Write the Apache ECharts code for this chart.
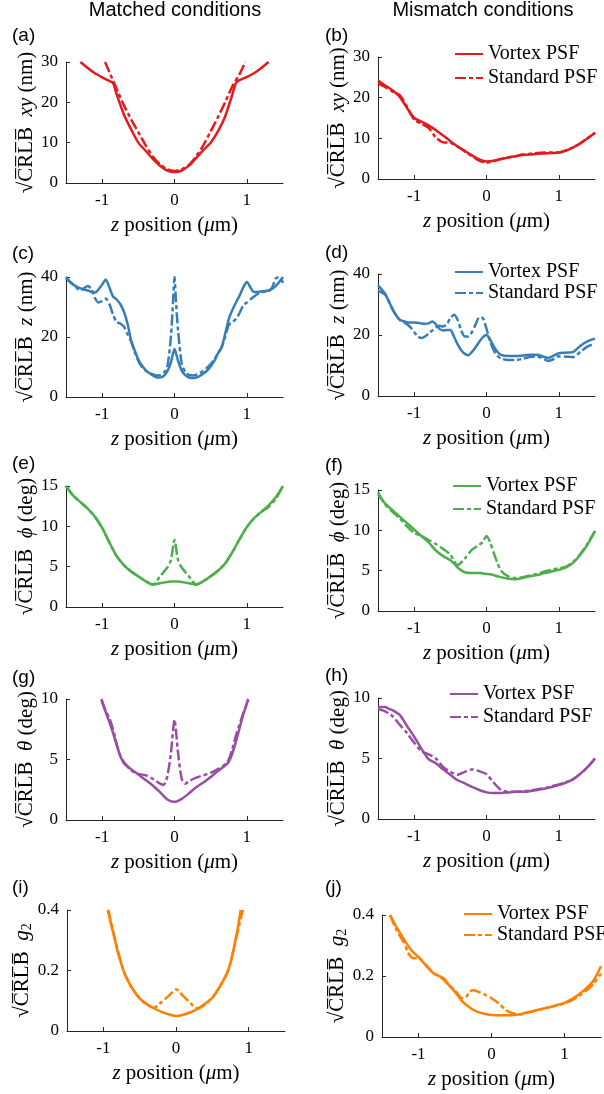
<!DOCTYPE html>
<html><head><meta charset="utf-8">
<script src="https://cdn.jsdelivr.net/npm/echarts@6/dist/echarts.min.js"></script>
<style>html,body{margin:0;padding:0;background:#fff}#c{width:604px;height:1094px}</style>
</head><body><div id="c"></div>
<script>
// ---------- data (z position in µm, CRLB values) ----------
const xTicks = [-1, 0, 1];

// (a) xy, matched
const zV_a = [-1.3,-1.2,-1.1,-1.0,-0.9,-0.85,-0.8,-0.7,-0.6,-0.5,-0.4,-0.3,-0.2,-0.1,0,0.1,0.2,0.3,0.4,0.5,0.6,0.7,0.8,0.85,0.9,1.0,1.1,1.2,1.3];
const vortex_a = [30,28.5,27.2,26.2,25.3,24.8,22,17,13.3,10,8,6,4.3,3.1,2.7,3.1,4.3,6.2,8.2,10,12.8,16.5,22,24.8,25.5,26.3,27.2,28.5,30];
const zS_a = [-0.96,-0.9,-0.8,-0.7,-0.6,-0.5,-0.4,-0.3,-0.2,-0.1,0,0.1,0.2,0.3,0.4,0.5,0.6,0.7,0.8,0.9,0.98];
const standard_a = [30,27.5,23.3,19.3,15.8,12.6,9.4,6.6,4.6,3.4,3.0,3.4,4.5,6.6,9.4,12.8,16.3,20,24,27,30];

// (b) xy, mismatch
const z_b = [-1.5,-1.4,-1.3,-1.2,-1.1,-1.0,-0.9,-0.8,-0.7,-0.6,-0.5,-0.4,-0.3,-0.2,-0.1,0,0.1,0.2,0.3,0.4,0.5,0.6,0.7,0.8,0.9,1.0,1.1,1.2,1.3,1.4,1.5];
const vortex_b = [24.2,23,21.8,20.2,17.5,15,14.1,13.2,12,10.7,9.3,8.0,6.9,5.8,4.8,4.3,4.5,4.9,5.3,5.6,5.9,6.0,6.2,6.3,6.4,6.5,7.0,7.8,8.8,10.0,11.3];
const standard_b = [23.5,22.6,21.5,20.6,17.8,14.6,13.6,12.6,10.2,9.0,8.9,8.0,6.8,5.6,4.5,4.0,4.4,4.9,5.3,5.6,6.0,6.2,6.4,6.5,6.5,6.5,7.0,7.8,8.8,10.1,11.4];

// (c) z, matched
const zV_c = [-1.5,-1.4,-1.3,-1.2,-1.1,-1.0,-0.95,-0.9,-0.85,-0.8,-0.75,-0.7,-0.65,-0.6,-0.55,-0.5,-0.45,-0.4,-0.35,-0.3,-0.25,-0.2,-0.15,-0.1,-0.05,0,0.05,0.1,0.15,0.2,0.25,0.3,0.35,0.4,0.45,0.5,0.55,0.6,0.65,0.7,0.75,0.8,0.85,0.9,0.95,1.0,1.05,1.1,1.2,1.3,1.4,1.5];
const vortex_c = [39.5,37.5,36.2,35.5,34.8,37.5,39.2,36.5,33.5,32.5,31,28.5,24.5,19,15.5,12.5,10.5,9,8,7.2,6.6,6.5,7,8.5,11.5,16,12,8.8,7.3,6.5,6.3,6.5,7,7.8,8.8,10.2,12,14.5,16.5,21,26,29,31.5,33.8,36.5,38.3,36.5,35,35.2,35.5,37,40];
const zS_c = [-1.5,-1.45,-1.4,-1.3,-1.2,-1.15,-1.1,-1.05,-1.0,-0.95,-0.9,-0.85,-0.8,-0.75,-0.7,-0.65,-0.6,-0.55,-0.5,-0.45,-0.4,-0.35,-0.3,-0.25,-0.2,-0.15,-0.1,-0.05,-0.02,0,0.02,0.05,0.1,0.15,0.2,0.25,0.3,0.35,0.4,0.45,0.5,0.55,0.6,0.65,0.7,0.75,0.8,0.85,0.9,0.95,1.0,1.1,1.2,1.3,1.35,1.4,1.45,1.5];
const standard_c = [40,38.5,37.5,35.5,37,36,33,31.5,32,32.8,31,27.5,25,24.5,23.5,21,18.5,15,12,10,8.8,8,7.5,7.2,7.3,8,10,20,32,40,32,22,11,8.3,7.4,7.2,7.4,8,8.8,9.8,11,12.5,14.5,16.5,20,24,25,26,28,30.5,31.5,33.5,35,35.2,36.5,39.5,40,38];

// (d) z, mismatch
const z_d = [-1.5,-1.45,-1.4,-1.35,-1.3,-1.25,-1.2,-1.1,-1.05,-1.0,-0.95,-0.9,-0.85,-0.8,-0.75,-0.7,-0.65,-0.6,-0.55,-0.5,-0.45,-0.4,-0.35,-0.3,-0.25,-0.2,-0.15,-0.1,-0.05,0,0.05,0.1,0.15,0.2,0.3,0.4,0.5,0.6,0.7,0.8,0.85,0.9,1.0,1.1,1.2,1.3,1.4,1.5];
const vortex_d = [36.3,35,33.5,31,28.5,26.5,25,24.2,24.1,24.1,24,23.8,23.7,23.8,24.4,23.5,22,21.5,21.6,21.6,19.5,17,15,13.8,13.4,14.5,16,17.8,19.3,20,18.5,16.3,14.5,13.5,13.1,13.1,13.3,13.5,13.5,12.8,12.5,12.9,14,14.2,14.5,16.5,18,18.8];
const standard_d = [34.5,34,33.2,31,28.5,26.5,25,23.5,22.5,21,19.5,19,19.5,20.5,21.5,22.5,23,22.8,23.5,25.5,26.6,25,21.5,19.5,19.5,21,23.5,25.8,25.5,22,18,15,13.2,12.3,11.8,11.8,12.2,12.8,13,12,11.5,11.8,13,12.9,12.8,14.5,16.3,17];

// (e) phi, matched
const z_e = [-1.5,-1.4,-1.3,-1.2,-1.1,-1.0,-0.9,-0.8,-0.7,-0.6,-0.5,-0.4,-0.3,-0.2,-0.1,-0.05,0,0.05,0.1,0.2,0.3,0.4,0.5,0.6,0.7,0.8,0.9,1.0,1.1,1.2,1.3,1.4,1.5];
const vortex_e = [15,13.8,13,12.2,11.2,9.8,8,6.3,5.2,4.4,3.8,3.2,2.75,2.95,3.1,3.15,3.15,3.15,3.1,2.95,2.75,3.2,3.8,4.5,5.4,6.8,8.4,9.9,11,11.8,12.6,13.6,15];
const standard_e = [15,13.8,13,12.2,11.2,9.8,8,6.3,5.2,4.4,3.8,3.2,2.8,3.8,4.9,5.8,8.3,5.8,4.9,3.8,2.8,3.2,3.8,4.5,5.4,6.8,8.4,9.9,11,11.8,12.4,13.4,15];

// (f) phi, mismatch
const z_f = [-1.5,-1.4,-1.3,-1.2,-1.1,-1.0,-0.9,-0.8,-0.7,-0.6,-0.5,-0.45,-0.4,-0.3,-0.2,-0.1,-0.05,0,0.05,0.1,0.15,0.2,0.3,0.4,0.5,0.6,0.7,0.8,0.9,1.0,1.1,1.2,1.3,1.4,1.5];
const vortex_f = [14.4,13.3,12.5,11.7,10.9,10.1,9.3,8.5,7.5,6.8,6.3,5.9,5.4,4.8,4.7,4.7,4.65,4.6,4.55,4.45,4.3,4.2,4.0,3.95,4.1,4.3,4.45,4.7,4.9,5.1,5.4,6.0,7.0,8.3,9.9];
const standard_f = [14.7,13.2,12.3,11.5,10.5,9.7,9.3,8.8,8.3,7.7,7.0,6.2,5.7,6.5,7.6,8.2,8.6,9.3,8.5,7.2,6.0,5.0,4.3,4.1,4.2,4.4,4.6,4.9,5.1,5.3,5.5,6.1,7.1,8.4,9.9];

// (g) theta, matched
const zV_g = [-1.01,-0.95,-0.9,-0.85,-0.8,-0.75,-0.7,-0.6,-0.5,-0.4,-0.3,-0.2,-0.1,0,0.1,0.2,0.3,0.4,0.5,0.6,0.7,0.75,0.8,0.85,0.9,0.95,1.02];
const vortex_g = [10,8.9,8.1,7.2,6.2,5.3,4.7,4.2,3.75,3.3,2.85,2.3,1.7,1.5,1.75,2.2,2.7,3.1,3.55,4.05,4.5,4.8,5.5,6.5,7.6,8.7,10];
const zS_g = [-1.01,-0.95,-0.9,-0.85,-0.8,-0.75,-0.7,-0.6,-0.5,-0.4,-0.3,-0.2,-0.15,-0.1,-0.05,-0.02,0,0.02,0.05,0.1,0.15,0.2,0.3,0.4,0.5,0.6,0.7,0.75,0.8,0.85,0.9,0.95,1.02];
const standard_g = [9.9,9.0,8.4,7.5,6.3,5.3,4.8,4.1,3.8,3.7,3.4,3.0,2.9,3.6,5.5,7.4,8.3,7.4,5.5,3.4,3.0,3.2,3.5,3.7,3.9,4.2,4.6,5.0,5.9,7.0,7.9,8.8,9.9];

// (h) theta, mismatch
const z_h = [-1.5,-1.45,-1.4,-1.35,-1.3,-1.2,-1.1,-1.0,-0.9,-0.8,-0.7,-0.6,-0.5,-0.4,-0.3,-0.2,-0.1,0,0.1,0.2,0.3,0.4,0.5,0.6,0.7,0.8,0.9,1.0,1.1,1.2,1.3,1.4,1.5];
const vortex_h = [9.2,9.25,9.25,9.1,9.0,8.6,7.7,6.8,5.8,4.95,4.6,4.1,3.65,3.2,2.95,2.65,2.4,2.2,2.15,2.15,2.2,2.25,2.25,2.3,2.4,2.5,2.65,2.8,3.0,3.3,3.75,4.3,5.0];
const standard_h = [9.1,9.0,8.9,8.7,8.5,7.8,7.1,6.3,5.6,5.35,5.0,4.3,3.9,3.65,3.9,4.1,3.95,3.7,3.0,2.4,2.25,2.25,2.3,2.35,2.45,2.55,2.7,2.85,3.05,3.3,3.75,4.3,5.0];

// (i) g2, matched
const zV_i = [-0.94,-0.9,-0.85,-0.8,-0.75,-0.7,-0.6,-0.5,-0.4,-0.3,-0.2,-0.1,0,0.1,0.2,0.3,0.4,0.5,0.6,0.7,0.75,0.8,0.85,0.89];
const vortex_i = [0.4,0.36,0.31,0.26,0.22,0.185,0.14,0.108,0.088,0.075,0.063,0.055,0.05,0.054,0.062,0.074,0.09,0.11,0.145,0.19,0.225,0.28,0.34,0.4];
const zS_i = [-0.93,-0.9,-0.85,-0.8,-0.75,-0.7,-0.6,-0.5,-0.4,-0.3,-0.25,-0.2,-0.1,-0.05,0,0.05,0.1,0.2,0.25,0.3,0.4,0.5,0.6,0.7,0.75,0.8,0.85,0.9,0.92];
const standard_i = [0.4,0.365,0.315,0.265,0.222,0.186,0.14,0.108,0.088,0.076,0.085,0.096,0.116,0.128,0.138,0.128,0.115,0.092,0.08,0.075,0.088,0.11,0.145,0.19,0.225,0.275,0.33,0.38,0.4];

// (j) g2, mismatch
const zV_j = [-1.39,-1.3,-1.2,-1.1,-1.0,-0.9,-0.8,-0.7,-0.65,-0.6,-0.5,-0.4,-0.3,-0.2,-0.1,0,0.1,0.2,0.3,0.4,0.5,0.6,0.7,0.8,0.9,1.0,1.1,1.2,1.3,1.4,1.5];
const vortex_j = [0.4,0.36,0.32,0.285,0.262,0.235,0.21,0.198,0.192,0.175,0.148,0.117,0.097,0.083,0.076,0.072,0.071,0.071,0.072,0.075,0.081,0.087,0.093,0.098,0.105,0.112,0.124,0.14,0.16,0.186,0.232];
const zS_j = [-1.39,-1.3,-1.2,-1.15,-1.1,-1.05,-1.0,-0.9,-0.8,-0.7,-0.6,-0.5,-0.4,-0.35,-0.3,-0.25,-0.2,-0.1,0,0.1,0.2,0.3,0.4,0.5,0.6,0.7,0.8,0.9,1.0,1.1,1.2,1.3,1.4,1.5];
const standard_j = [0.4,0.35,0.31,0.28,0.262,0.258,0.259,0.237,0.21,0.197,0.175,0.152,0.127,0.13,0.148,0.153,0.15,0.14,0.127,0.11,0.088,0.077,0.074,0.08,0.086,0.092,0.098,0.104,0.11,0.12,0.135,0.152,0.175,0.208];

const seriesNames = ['Vortex PSF', 'Standard PSF'];
const columnTitles = ['Matched conditions', 'Mismatch conditions'];

// ---------- styling / layout ----------
const SERIF = '"Liberation Serif", "Times New Roman", serif';
const SANS = '"Liberation Sans", Arial, sans-serif';
const AXIS = '#262626';
const RED = '#e41a1c', BLUE = '#377eb8', GREEN = '#4daf4a', PURPLE = '#984ea3', ORANGE = '#ff7f00';
const CRLB = '\u221A' + 'C\u0305R\u0305L\u0305B\u0305' + '  ';

const panels = [
  {key:'a', grid:{left:66,top:62,width:217,height:121}, color:RED, yMax:30, yInt:10, yName:'{i|xy} (nm)', v:[zV_a,vortex_a], s:[zS_a,standard_a], letter:[12,26]},
  {key:'b', grid:{left:378,top:57,width:217,height:122}, color:RED, yMax:30, yInt:10, yName:'{i|xy} (nm)', v:[z_b,vortex_b], s:[z_b,standard_b], letter:[325,26], legend:{left:454,top:44,gap:4}},
  {key:'c', grid:{left:66,top:277,width:217,height:120}, color:BLUE, yMax:40, yInt:20, yName:'{i|z} (nm)', v:[zV_c,vortex_c], s:[zS_c,standard_c], letter:[12,244]},
  {key:'d', grid:{left:378,top:274,width:217,height:122}, color:BLUE, yMax:40, yInt:20, yName:'{i|z} (nm)', v:[z_d,vortex_d], s:[z_d,standard_d], letter:[325,243], legend:{left:454,top:262,gap:1}},
  {key:'e', grid:{left:66,top:486,width:217,height:121}, color:GREEN, yMax:15, yInt:5, yName:'{i|\u03D5} (deg)', v:[z_e,vortex_e], s:[z_e,standard_e], letter:[12,454]},
  {key:'f', grid:{left:378,top:490,width:217,height:121}, color:GREEN, yMax:15, yInt:5, yName:'{i|\u03D5} (deg)', v:[z_f,vortex_f], s:[z_f,standard_f], letter:[325,456], legend:{left:452,top:476,gap:3}},
  {key:'g', grid:{left:66,top:699,width:217,height:121}, color:PURPLE, yMax:10, yInt:5, yName:'{i|\u03B8} (deg)', v:[zV_g,vortex_g], s:[zS_g,standard_g], letter:[12,668]},
  {key:'h', grid:{left:378,top:698,width:217,height:121}, color:PURPLE, yMax:10, yInt:5, yName:'{i|\u03B8} (deg)', v:[z_h,vortex_h], s:[z_h,standard_h], letter:[325,666], legend:{left:449,top:684,gap:3}},
  {key:'i', grid:{left:67,top:910,width:218,height:121}, color:ORANGE, yMax:0.4, yInt:0.2, yName:'{i|g}{s|2}', v:[zV_i,vortex_i], s:[zS_i,standard_i], letter:[12,878]},
  {key:'j', grid:{left:382,top:915,width:219,height:122}, color:ORANGE, yMax:0.4, yInt:0.2, yName:'{i|g}{s|2}', v:[zV_j,vortex_j], s:[zS_j,standard_j], letter:[325,878], legend:{left:463,top:904,gap:1}}
];

const pairs = (zs, ys) => zs.map((z, i) => [z, ys[i]]);
const tickLabelStyle = {fontFamily: SERIF, fontSize: 17, color: '#000'};

const option = {
  backgroundColor: '#fff',
  animation: false,
  title: [
    {text: columnTitles[0], left: 175, top: 0, textAlign: 'center', padding: 0,
     textStyle: {fontFamily: SANS, fontSize: 20, fontWeight: 'normal', color: '#000'}},
    {text: columnTitles[1], left: 483, top: 0, textAlign: 'center', padding: 0,
     textStyle: {fontFamily: SANS, fontSize: 20, fontWeight: 'normal', color: '#000'}}
  ].concat(panels.map(p => ({
    text: '(' + p.key + ')', left: p.letter[0], top: p.letter[1], padding: 0,
    textStyle: {fontFamily: SANS, fontSize: 19, fontWeight: 'normal', color: '#000'}
  }))),
  grid: panels.map(p => Object.assign({containLabel: false}, p.grid)),
  xAxis: panels.map((p, i) => ({
    gridIndex: i, type: 'value', min: -1.5, max: 1.5,
    axisLine: {show: true, onZero: false, lineStyle: {color: AXIS, width: 1}},
    axisTick: {show: true, inside: true, length: 4, customValues: xTicks, lineStyle: {color: AXIS}},
    axisLabel: Object.assign({customValues: xTicks, margin: 9}, tickLabelStyle),
    splitLine: {show: false},
    name: '{i|z} position ({i|\u03BC}m)', nameLocation: 'middle', nameGap: 32,
    nameTextStyle: {fontFamily: SERIF, fontSize: 21, color: '#000',
      rich: {i: {fontFamily: SERIF, fontSize: 21, fontStyle: 'italic', color: '#000'}}}
  })),
  yAxis: panels.map((p, i) => ({
    gridIndex: i, type: 'value', min: 0, max: p.yMax, interval: p.yInt,
    axisLine: {show: true, onZero: false, lineStyle: {color: AXIS, width: 1}},
    axisTick: {show: true, inside: true, length: 4, lineStyle: {color: AXIS}},
    axisLabel: Object.assign({margin: 8}, tickLabelStyle),
    splitLine: {show: false},
    name: CRLB + p.yName, nameLocation: 'middle', nameGap: 28,
    nameTextStyle: {fontFamily: SERIF, fontSize: 21, color: '#000',
      rich: {
        i: {fontFamily: SERIF, fontSize: 21, fontStyle: 'italic', color: '#000'},
        s: {fontFamily: SERIF, fontSize: 14, color: '#000', padding: [8, 0, 0, 0]}
      }}
  })),
  legend: panels.filter(p => p.legend).map(p => ({
    data: seriesNames.map(n => n + '|' + p.key),
    orient: 'vertical', left: p.legend.left, top: p.legend.top,
    itemWidth: 28, itemHeight: 14, itemGap: p.legend.gap, padding: 0,
    selectedMode: false,
    itemStyle: {color: 'rgba(0,0,0,0)', borderWidth: 0, opacity: 0},
    formatter: n => n.split('|')[0],
    textStyle: {fontFamily: SERIF, fontSize: 20, color: '#000'}
  })),
  series: panels.flatMap((p, i) => [
    {name: seriesNames[0] + '|' + p.key, type: 'line', xAxisIndex: i, yAxisIndex: i,
     data: pairs(p.v[0], p.v[1]), symbol: 'none', showSymbol: false, smooth: 0.25,
     lineStyle: {color: p.color, width: 2.5, type: 'solid'}, itemStyle: {color: p.color}, z: 3},
    {name: seriesNames[1] + '|' + p.key, type: 'line', xAxisIndex: i, yAxisIndex: i,
     data: pairs(p.s[0], p.s[1]), symbol: 'none', showSymbol: false, smooth: 0.25,
     lineStyle: {color: p.color, width: 2.5, type: [11, 3, 4, 3]}, itemStyle: {color: p.color}, z: 2}
  ])
};

const chart = echarts.init(document.getElementById('c'), null, {renderer: 'canvas'});
chart.setOption(option);
</script></body></html>
